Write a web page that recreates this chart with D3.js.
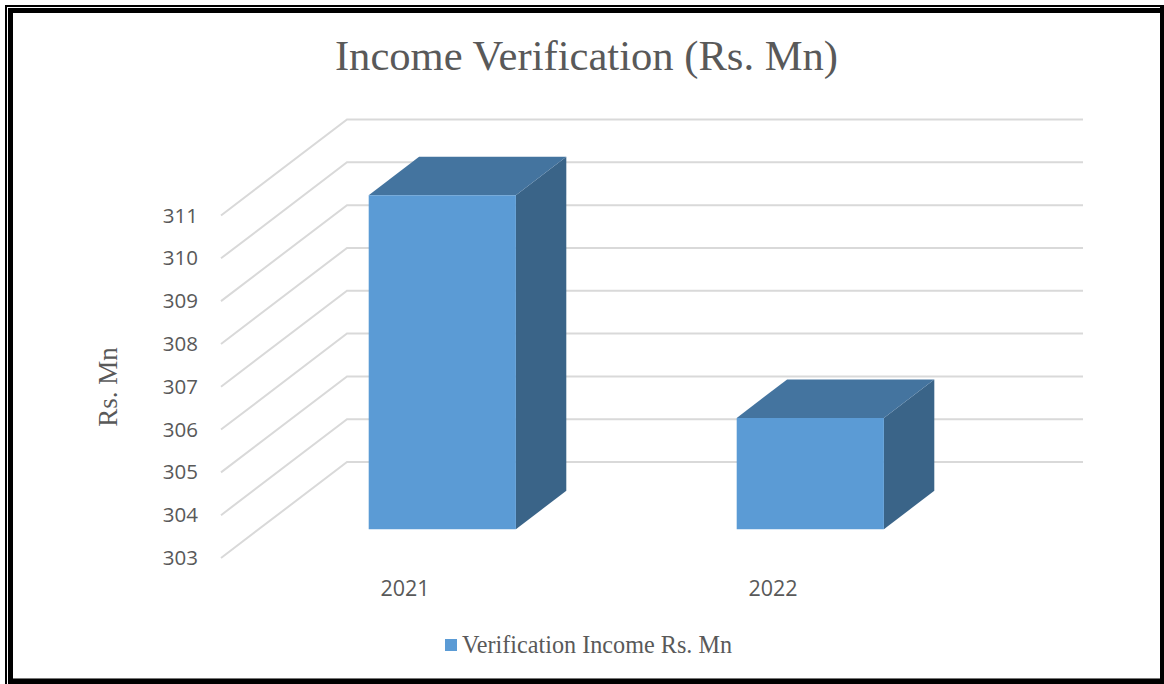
<!DOCTYPE html>
<html>
<head>
<meta charset="utf-8">
<script src="https://cdn.jsdelivr.net/npm/d3@7"></script>
<style>
    html, body { margin: 0; padding: 0; background: #fff; }
    svg { display: block; }
    text { fill: #595959; }
</style>
</head>
<body>
<div id="svganchor"></div>
<script>
let width = 1164;
let height = 684;

let years = ["2021", "2022"];
let income = [310.8, 305.6];
let yTicks = [303, 304, 305, 306, 307, 308, 309, 310, 311];

let titleText = "Income Verification (Rs. Mn)";
let yLabel = "Rs. Mn";
let legendLabel = "Verification Income Rs. Mn";

let colors = {front: "#5B9BD5", top: "#44749F", side: "#3A6488", grid: "#D9D9D9"};

let svg = d3.select("#svganchor")
    .append("svg")
    .attr("width", width)
    .attr("height", height);

// Picture frame: thin outer line, white gap, thick inner line
let frame = svg.append("g").attr("fill", "#000");
frame.append("rect").attr("x", 5).attr("y", 5).attr("width", 1159).attr("height", 2);
frame.append("rect").attr("x", 5).attr("y", 5).attr("width", 2).attr("height", 679);
frame.append("rect").attr("x", 8).attr("y", 8).attr("width", 1156).attr("height", 5);
frame.append("rect").attr("x", 8).attr("y", 8).attr("width", 5).attr("height", 676);
frame.append("rect").attr("x", 1160).attr("y", 5).attr("width", 4).attr("height", 679);
frame.append("rect").attr("x", 8).attr("y", 679).attr("width", 1156).attr("height", 5);
frame.append("rect").attr("x", 13).attr("y", 678).attr("width", 1147).attr("height", 1).attr("fill", "#777");

let xScale = d3.scaleBand()
    .domain(years)
    .range([220.5, 956.5])
    .paddingInner(0.6)
    .paddingOuter(0.3);

let yScale = d3.scaleLinear()
    .domain([303, 311])
    .range([558, 215.5]);

// Oblique projection: depth 0 is the front of the chart box, 1 is the back wall
let depthX = d3.scaleLinear().domain([0, 1]).range([0, 126]);
let depthY = d3.scaleLinear().domain([0, 1]).range([0, -96]);

function project(x, value, depth) {
    return [x + depthX(depth), yScale(value) + depthY(depth)];
}

let polygon = d3.line();

// Gridlines run along the floor side wall, then across the back wall
svg.append("g")
    .selectAll("path")
    .data(yTicks)
    .join("path")
    .attr("fill", "none")
    .attr("stroke", colors.grid)
    .attr("stroke-width", 2)
    .attr("d", function(d) {
        return polygon([project(221, d, 0), project(221, d, 1), project(957, d, 1)]);
    });

// Bars sit between these two depths
let barFront = 0.3;
let barBack = 0.7;

let bars = svg.append("g")
    .selectAll("g")
    .data(years)
    .join("g");

bars.append("path")
    .attr("fill", colors.side)
    .attr("d", function(d, i) {
        let x = xScale(d) + xScale.bandwidth();
        return polygon([
            project(x, 303, barFront),
            project(x, 303, barBack),
            project(x, income[i], barBack),
            project(x, income[i], barFront)
        ]) + "Z";
    });

bars.append("path")
    .attr("fill", colors.top)
    .attr("d", function(d, i) {
        let x = xScale(d);
        let w = xScale.bandwidth();
        return polygon([
            project(x, income[i], barFront),
            project(x, income[i], barBack),
            project(x + w, income[i], barBack),
            project(x + w, income[i], barFront)
        ]) + "Z";
    });

bars.append("path")
    .attr("fill", colors.front)
    .attr("d", function(d, i) {
        let x = xScale(d);
        let w = xScale.bandwidth();
        return polygon([
            project(x, 303, barFront),
            project(x + w, 303, barFront),
            project(x + w, income[i], barFront),
            project(x, income[i], barFront)
        ]) + "Z";
    });

// Axes only carry labels here
let yAxis = d3.axisLeft(yScale).tickValues(yTicks).tickSize(0).tickPadding(0).tickFormat(d3.format("d"));
svg.append("g")
    .attr("transform", "translate(198,0)")
    .call(yAxis)
    .call(function(g) { g.select(".domain").remove(); })
    .selectAll("text")
    .attr("font-family", "'Open Sans', sans-serif")
    .attr("font-size", 20.5);

let xAxis = d3.axisBottom(xScale).tickSize(0).tickPadding(0);
svg.append("g")
    .attr("transform", "translate(0.5,581)")
    .call(xAxis)
    .call(function(g) { g.select(".domain").remove(); })
    .selectAll("text")
    .attr("font-family", "'Open Sans', sans-serif")
    .attr("font-size", 21.5);

svg.append("text")
    .attr("x", 586.5)
    .attr("y", 70)
    .attr("text-anchor", "middle")
    .attr("font-family", "'Liberation Serif', serif")
    .attr("font-size", 42.6)
    .text(titleText);

svg.append("text")
    .attr("transform", "translate(117,387) rotate(-90)")
    .attr("text-anchor", "middle")
    .attr("font-family", "'Liberation Serif', serif")
    .attr("font-size", 27)
    .text(yLabel);

// Legend
svg.append("rect")
    .attr("x", 445)
    .attr("y", 639)
    .attr("width", 12)
    .attr("height", 12)
    .attr("fill", colors.front);

svg.append("text")
    .attr("x", 462)
    .attr("y", 653)
    .attr("font-family", "'Liberation Serif', serif")
    .attr("font-size", 24.2)
    .text(legendLabel);
</script>
</body>
</html>
